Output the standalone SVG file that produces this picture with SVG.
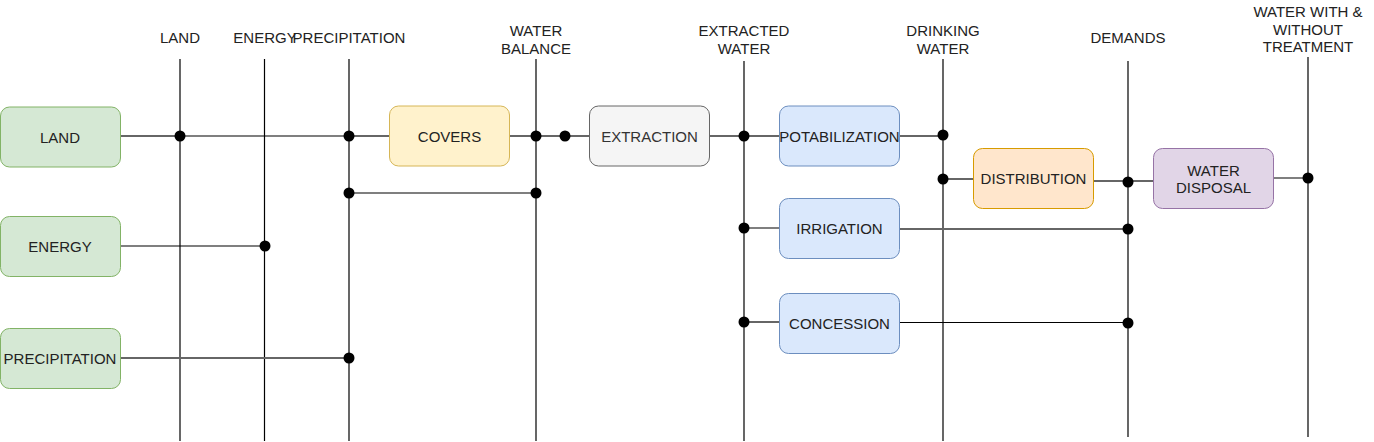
<svg xmlns="http://www.w3.org/2000/svg" width="1374" height="442" viewBox="0 0 1374 442">
<style>
text{font-family:"Liberation Sans",Arial,sans-serif;font-size:15px;fill:#222;text-anchor:middle;dominant-baseline:central}
.n{stroke-width:1}
.g{fill:#d5e8d4;stroke:#82b366}
.y{fill:#fff2cc;stroke:#d6b656}
.s{fill:#f5f5f5;stroke:#666666}
.b{fill:#dae8fc;stroke:#6c8ebf}
.o{fill:#ffe6cc;stroke:#d79b00}
.p{fill:#e1d5e7;stroke:#9673a6}
.v{stroke:#000;stroke-width:1.2;fill:none}
.h{stroke:#000;stroke-width:1.2;fill:none}
.hg{stroke:#666;stroke-width:1.8;fill:none}
.d{fill:#000}
</style>
<g id="axes">
<line class="v" x1="180" y1="59" x2="180" y2="441"/>
<line class="v" x1="264.5" y1="59" x2="264.5" y2="441"/>
<line class="v" x1="349" y1="59" x2="349" y2="441"/>
<line class="v" x1="536" y1="59" x2="536" y2="441"/>
<line class="v" x1="744" y1="61" x2="744" y2="441"/>
<line class="v" x1="943" y1="59" x2="943" y2="441"/>
<line class="v" x1="1128" y1="61" x2="1128" y2="437"/>
<line class="v" x1="1308" y1="57" x2="1308" y2="437"/>
<text x="180" y="37">LAND</text>
<text x="265" y="37">ENERGY</text>
<text x="349" y="37">PRECIPITATION</text>
<text x="536" y="30">WATER</text>
<text x="536" y="48">BALANCE</text>
<text x="744" y="30">EXTRACTED</text>
<text x="744" y="48">WATER</text>
<text x="943" y="30">DRINKING</text>
<text x="943" y="48">WATER</text>
<text x="1128" y="37">DEMANDS</text>
<text x="1308" y="11">WATER WITH &amp;</text>
<text x="1308" y="29">WITHOUT</text>
<text x="1308" y="46">TREATMENT</text>
</g>
<g id="connectors">
<line class="hg" x1="120" y1="136" x2="180" y2="136"/>
<line class="h" x1="180" y1="136" x2="349" y2="136"/>
<line class="hg" x1="349" y1="136" x2="389" y2="136"/>
<line class="hg" x1="509" y1="136" x2="589" y2="136"/>
<line class="h" x1="349" y1="193" x2="536" y2="193"/>
<line class="h" x1="120" y1="246" x2="264.5" y2="246"/>
<line class="hg" x1="120" y1="358" x2="349" y2="358"/>
<line class="hg" x1="709" y1="136" x2="779" y2="136"/>
<line class="hg" x1="899" y1="136" x2="943" y2="136"/>
<line class="h" x1="943" y1="179" x2="973" y2="179"/>
<line class="hg" x1="1093" y1="181" x2="1153" y2="181"/>
<line class="h" x1="1273" y1="178" x2="1308" y2="178"/>
<line class="h" x1="744" y1="228" x2="779" y2="228"/>
<line class="hg" x1="899" y1="229" x2="1128" y2="229"/>
<line class="hg" x1="744" y1="322" x2="779" y2="322"/>
<line class="h" x1="899" y1="322.5" x2="1128" y2="322.5"/>
<circle class="d" cx="180" cy="136" r="5.5"/>
<circle class="d" cx="349" cy="136" r="5.5"/>
<circle class="d" cx="536" cy="136" r="5.5"/>
<circle class="d" cx="565" cy="136" r="5.5"/>
<circle class="d" cx="744" cy="136" r="5.5"/>
<circle class="d" cx="943" cy="135" r="5.5"/>
<circle class="d" cx="349" cy="193" r="5.5"/>
<circle class="d" cx="536" cy="193" r="5.5"/>
<circle class="d" cx="265" cy="246" r="5.5"/>
<circle class="d" cx="349" cy="358" r="5.5"/>
<circle class="d" cx="943" cy="179" r="5.5"/>
<circle class="d" cx="1128" cy="182" r="5.5"/>
<circle class="d" cx="1308" cy="178" r="5.5"/>
<circle class="d" cx="744" cy="228" r="5.5"/>
<circle class="d" cx="1128" cy="229" r="5.5"/>
<circle class="d" cx="744" cy="322" r="5.5"/>
<circle class="d" cx="1128" cy="323" r="5.5"/>
</g>
<g id="land"><rect class="n g" x="0.5" y="107" width="120" height="60" rx="9"/><text x="60" y="137">LAND</text></g>
<g id="energy"><rect class="n g" x="0.5" y="216.5" width="120" height="60" rx="9"/><text x="60" y="246.5">ENERGY</text></g>
<g id="precipitation"><rect class="n g" x="0.5" y="328.5" width="120" height="60" rx="9"/><text x="60" y="358.5">PRECIPITATION</text></g>
<g id="covers"><rect class="n y" x="389.5" y="106" width="120" height="60" rx="9"/><text x="449.5" y="136">COVERS</text></g>
<g id="extraction"><rect class="n s" x="589.5" y="106" width="120" height="60" rx="9"/><text x="649.5" y="136" style="fill:#333">EXTRACTION</text></g>
<g id="potabilization"><rect class="n b" x="779.5" y="106" width="120" height="60" rx="9"/><text x="839.5" y="136">POTABILIZATION</text></g>
<g id="distribution"><rect class="n o" x="973.5" y="148.5" width="120" height="60" rx="9"/><text x="1033.5" y="178.5">DISTRIBUTION</text></g>
<g id="water-disposal"><rect class="n p" x="1153.5" y="148.5" width="120" height="60" rx="9"/><text x="1213.5" y="170">WATER</text><text x="1213.5" y="187">DISPOSAL</text></g>
<g id="irrigation"><rect class="n b" x="779.5" y="198.5" width="120" height="60" rx="9"/><text x="839.5" y="228.5">IRRIGATION</text></g>
<g id="concession"><rect class="n b" x="779.5" y="293.5" width="120" height="60" rx="9"/><text x="839.5" y="323.5">CONCESSION</text></g>
</svg>
